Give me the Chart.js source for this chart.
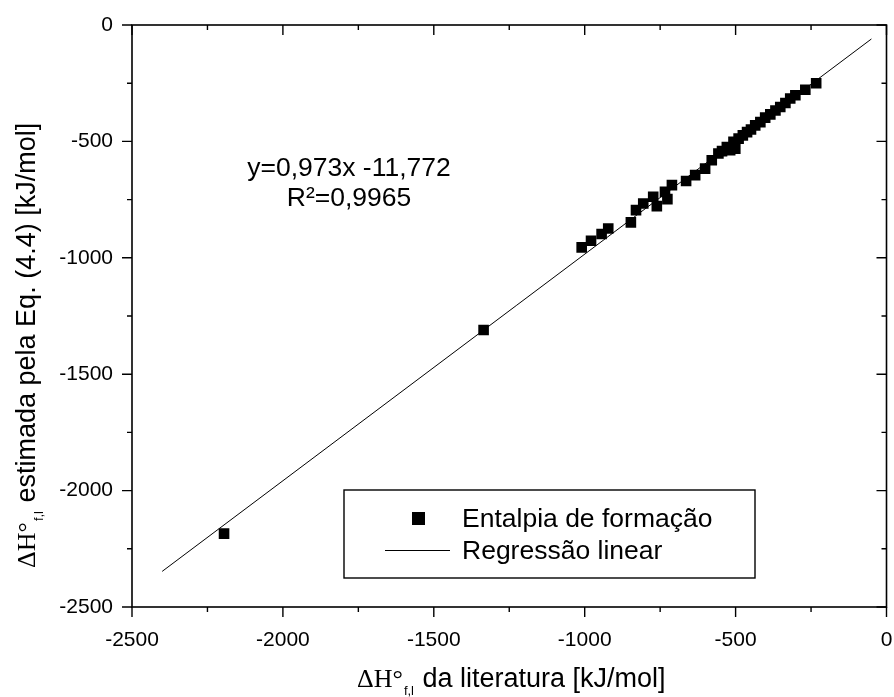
<!DOCTYPE html>
<html>
<head>
<meta charset="utf-8">
<script src="https://cdn.jsdelivr.net/npm/chart.js@4.4.1/dist/chart.umd.min.js"></script>
<style>
  html, body { margin: 0; padding: 0; background: #fff; }
  #wrap { width: 894px; height: 697px; }
</style>
</head>
<body>
<div id="wrap"><canvas id="c" width="894" height="697"></canvas></div>
<script>
// ΔH°f,l da literatura (x) vs estimada pela Eq. (4.4) (y), kJ/mol
const litValues = [-233, -269, -302, -319, -335, -352, -368, -385, -402, -418, -435, -449,
  -462, -476, -490, -507, -529, -501, -518, -545, -557, -579, -601, -634, -664, -711, -734,
  -726, -773, -761, -806, -830, -847, -922, -944, -979, -1010, -1335, -2195];
const estValues = [-250, -278, -302, -316, -335, -352, -367, -384, -398, -417, -431, -449,
  -460, -474, -488, -502, -524, -531, -538, -542, -552, -581, -617, -645, -670, -688, -717,
  -748, -738, -778, -767, -795, -848, -874, -898, -927, -955, -1310, -2185];

// Regressão linear: y = 0,973x - 11,772 (extremos)
const lineX = [-2400, -50];
const lineY = [-2347, -60];

const xTicks = [-2500, -2000, -1500, -1000, -500, 0];
const yTicks = [0, -500, -1000, -1500, -2000, -2500];

const SANS = '"Liberation Sans", Arial, sans-serif';
const SERIF = '"Liberation Serif", "Times New Roman", serif';

const framePlugin = {
  id: 'frame',
  afterDraw(chart) {
    const { ctx, chartArea: a, scales } = chart;
    const xs = scales.x, ys = scales.y;
    ctx.save();
    ctx.strokeStyle = '#000';
    ctx.lineWidth = 1.6;
    ctx.strokeRect(a.left, a.top, a.right - a.left, a.bottom - a.top);

    ctx.lineWidth = 1.4;
    ctx.beginPath();
    for (let v = -2500; v <= 0; v += 250) {
      const major = v % 500 === 0;
      const len = major ? 10 : 5;
      const px = xs.getPixelForValue(v);
      ctx.moveTo(px, a.bottom); ctx.lineTo(px, a.bottom + len);
      ctx.moveTo(px, a.top); ctx.lineTo(px, a.top + len);
      const py = ys.getPixelForValue(v);
      ctx.moveTo(a.left, py); ctx.lineTo(a.left - len, py);
      ctx.moveTo(a.right, py); ctx.lineTo(a.right - len, py);
    }
    ctx.stroke();

    // equation
    ctx.fillStyle = '#000';
    ctx.textAlign = 'center';
    ctx.textBaseline = 'middle';
    ctx.font = '26.5px ' + SANS;
    ctx.fillText('y=0,973x -11,772', 349, 169);
    ctx.fillText('R²=0,9965', 349, 199);

    // legend
    ctx.lineWidth = 1.4;
    ctx.strokeRect(344, 490, 411, 88);
    ctx.fillRect(412, 512, 13, 13);
    ctx.lineWidth = 1;
    ctx.beginPath();
    ctx.moveTo(385, 550.5); ctx.lineTo(450, 550.5);
    ctx.stroke();
    ctx.textAlign = 'left';
    ctx.fillText('Entalpia de formação', 462, 520);
    ctx.fillText('Regressão linear', 462, 552);

    // x title
    ctx.textBaseline = 'alphabetic';
    drawTitle(ctx, 357, 687, ' da literatura [kJ/mol]');

    // y title
    ctx.translate(35, 568);
    ctx.rotate(-Math.PI / 2);
    drawTitle(ctx, 0, 0, ' estimada pela Eq. (4.4) [kJ/mol]');
    ctx.restore();
  }
};

function drawTitle(ctx, x, y, rest) {
  ctx.textAlign = 'left';
  ctx.font = '26px ' + SERIF;
  ctx.fillText('ΔH°', x, y);
  x += ctx.measureText('ΔH°').width + 1;
  ctx.font = '13px ' + SANS;
  ctx.fillText('f,l', x, y + 8);
  x += ctx.measureText('f,l').width + 1;
  ctx.font = '27px ' + SANS;
  ctx.fillText(rest, x, y);
}

const points = litValues.map((v, i) => ({ x: v, y: estValues[i] }));
const linePts = lineX.map((v, i) => ({ x: v, y: lineY[i] }));

new Chart(document.getElementById('c'), {
  type: 'scatter',
  data: {
    datasets: [
      {
        label: 'Entalpia de formação',
        data: points,
        pointStyle: 'rect',
        pointRadius: 7.5,
        pointHoverRadius: 7.5,
        backgroundColor: '#000',
        borderColor: '#000',
        borderWidth: 0,
      },
      {
        label: 'Regressão linear',
        type: 'line',
        data: linePts,
        showLine: true,
        pointRadius: 0,
        borderColor: '#000',
        borderWidth: 1,
        fill: false,
      },
    ],
  },
  options: {
    responsive: false,
    animation: false,
    events: [],
    layout: { padding: { top: 25, right: 7.5, left: 0, bottom: 0 } },
    plugins: {
      legend: { display: false },
      tooltip: { enabled: false },
    },
    scales: {
      x: {
        type: 'linear',
        min: -2500,
        max: 0,
        afterFit: (s) => { s.height = 90; s.paddingLeft = 0; s.paddingRight = 0; },
        afterBuildTicks: (s) => { s.ticks = xTicks.map((v) => ({ value: v })); },
        grid: { display: false, drawTicks: false },
        border: { display: false },
        ticks: {
          color: '#000',
          padding: 21,
          maxRotation: 0,
          font: { family: SANS, size: 21 },
          callback: (v) => String(v),
        },
      },
      y: {
        type: 'linear',
        min: -2500,
        max: 0,
        afterFit: (s) => { s.width = 132; s.paddingTop = 0; s.paddingBottom = 0; },
        afterBuildTicks: (s) => { s.ticks = yTicks.map((v) => ({ value: v })); },
        grid: { display: false, drawTicks: false },
        border: { display: false },
        ticks: {
          color: '#000',
          padding: 19,
          font: { family: SANS, size: 21 },
          callback: (v) => String(v),
        },
      },
    },
  },
  plugins: [framePlugin],
});
</script>
</body>
</html>
